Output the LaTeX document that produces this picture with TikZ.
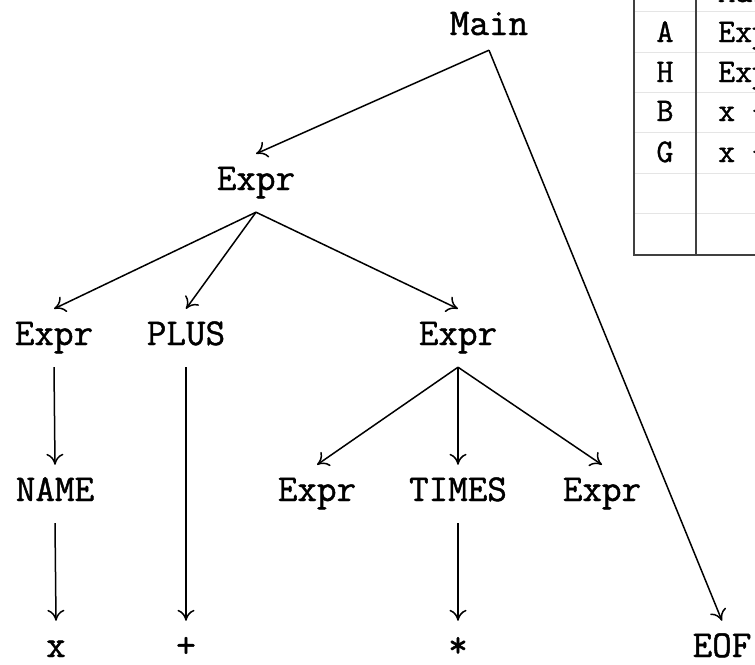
\documentclass[tikz,border=0pt]{standalone}
\usepackage{fontspec}
\setmonofont{Latin Modern Mono}[FakeBold=1.2]
\usepackage{tikz}
\usetikzlibrary{arrows.meta}

\begin{document}
\begin{tikzpicture}[
    x=1pt, y=-1pt,
    sym/.style={anchor=base, font=\fontsize{38}{40}\selectfont\ttfamily, text height=23pt, text depth=9pt, inner xsep=2pt, inner ysep=13pt},
    cell/.style={font=\fontsize{33}{36}\selectfont\ttfamily, inner sep=0pt},
    arr/.style={-{To[length=11pt,width=17pt]}, line width=1.5pt},
    rule/.style={draw=black!75, line width=1.4pt},
    faint/.style={draw=black!10, line width=0.8pt}
]
\useasboundingbox (0,0) rectangle (755,664);
\clip (0,0) rectangle (755,664);

% parse tree
\node[sym, text depth=2pt] (main) at (489,35) {Main};
\node[sym] (e1) at (256,190) {Expr};
\node[sym] (e2) at (54,345) {Expr};
\node[sym] (plus) at (186,345) {PLUS};
\node[sym] (e3) at (458,345) {Expr};
\node[sym] (name) at (55,501) {NAME};
\node[sym] (e4) at (317,501) {Expr};
\node[sym] (times) at (458,501) {TIMES};
\node[sym] (e5) at (602,501) {Expr};
\node[sym] (x) at (56,657) {x};
\node[sym] (plussym) at (186,657) {+};
\node[sym] (star) at (458,657) {*};
\node[sym] (eof) at (722,657) {EOF};

\draw[arr] (main.south) -- (e1.north);
\draw[arr] (main.south) -- (eof.north);
\draw[arr] (e1.south) -- (e2.north);
\draw[arr] (e1.south) -- (plus.north);
\draw[arr] (e1.south) -- (e3.north);
\draw[arr] (e2.south) -- (name.north);
\draw[arr] (name.south) -- (x.north);
\draw[arr] (plus.south) -- (plussym.north);
\draw[arr] (e3.south) -- (e4.north);
\draw[arr] (e3.south) -- (times.north);
\draw[arr] (e3.south) -- (e5.north);
\draw[arr] (times.south) -- (star.north);

% table in the corner
\foreach \y in {11,52,92,132,173,213}
    \draw[faint] (634,\y) -- (760,\y);
\draw[rule] (634,-5) -- (634,255) -- (760,255);
\draw[rule] (696,-5) -- (696,255);

\node[cell, anchor=base west] (r0) at (718,2) {Main};
\node[cell, anchor=base] (ka) at (665,42) {A};
\node[cell, anchor=base west] (ra) at (718,42) {Expr};
\node[cell, anchor=base] (kh) at (665,82) {H};
\node[cell, anchor=base west] (rh) at (718,82) {Expr};
\node[cell, anchor=base] (kb) at (665,121) {B};
\node[cell, anchor=base west] (rb) at (718,121) {x +};
\node[cell, anchor=base] (kg) at (665,162) {G};
\node[cell, anchor=base west] (rg) at (718,162) {x +};
\end{tikzpicture}
\end{document}
